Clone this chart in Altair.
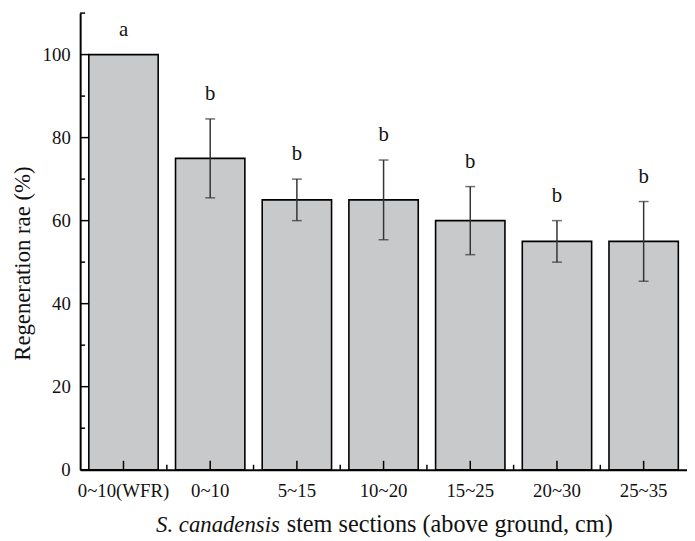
import altair as alt
import pandas as pd

categories = ["0~10(WFR)", "0~10", "5~15", "10~20", "15~25", "20~30", "25~35"]
means = [100, 75, 65, 65, 60, 55, 55]
errors = [0, 9.5, 5, 9.6, 8.2, 5, 9.6]
letters = ["a", "b", "b", "b", "b", "b", "b"]

y_major = [0, 20, 40, 60, 80, 100]
y_minor = [10, 30, 50, 70, 90, 110]

FONT = "Liberation Serif"
W, H = 614, 462

df = pd.DataFrame({"cat": categories, "mean": means, "err": errors, "letter": letters})
df["lo"] = df["mean"] - df["err"]
df["hi"] = df["mean"] + df["err"]
df["lab"] = df["hi"] + 4.5
err_df = df[df["err"] > 0]

xscale = alt.Scale(domain=categories, paddingInner=0, paddingOuter=0)
yscale = alt.Scale(domain=[0, 110], nice=False)

x_enc = alt.X("cat:N", scale=xscale, sort=categories, title=None,
              axis=alt.Axis(labelAngle=0, tickSize=0, labelPadding=12, labelFont=FONT,
                            labelFontSize=19, labelColor="#111", domainColor="black",
                            domainWidth=2, grid=False))

bars = alt.Chart(df).mark_bar(width=alt.RelativeBandSize(0.8), color="#c8c9cb",
                              stroke="black", strokeWidth=1.6).encode(
    x=x_enc,
    y=alt.Y("mean:Q", scale=yscale,
            axis=alt.Axis(values=y_major, tickSize=0, labelPadding=10, labelFont=FONT,
                          labelFontSize=19, labelColor="#111", domainColor="black",
                          domainWidth=2, grid=False, title="Regeneration rae (%)",
                          titleFont=FONT, titleFontSize=23, titleFontWeight="normal",
                          titleColor="#111", titleAngle=270, titleX=-51, titleY=253,
                          titleAlign="center", titleBaseline="alphabetic")),
)

err_rule = alt.Chart(err_df).mark_rule(color="#333", strokeWidth=1.5).encode(
    x=alt.X("cat:N", scale=xscale, sort=categories),
    y=alt.Y("lo:Q", scale=yscale),
    y2="hi:Q",
)
cap_lo = alt.Chart(err_df).mark_tick(color="#333", size=10, thickness=1.5, orient="horizontal").encode(
    x=alt.X("cat:N", scale=xscale, sort=categories),
    y=alt.Y("lo:Q", scale=yscale),
)
cap_hi = alt.Chart(err_df).mark_tick(color="#333", size=10, thickness=1.5, orient="horizontal").encode(
    x=alt.X("cat:N", scale=xscale, sort=categories),
    y=alt.Y("hi:Q", scale=yscale),
)

letter_text = alt.Chart(df).mark_text(font=FONT, fontSize=21, baseline="alphabetic",
                                      color="#111").encode(
    x=alt.X("cat:N", scale=xscale, sort=categories),
    y=alt.Y("lab:Q", scale=yscale),
    text="letter:N",
)

ymaj = alt.Chart(pd.DataFrame({"v": y_major})).mark_rule(color="black", strokeWidth=1.5).encode(
    y=alt.Y("v:Q", scale=yscale), x=alt.value(0), x2=alt.value(9))
ymin = alt.Chart(pd.DataFrame({"v": y_minor})).mark_rule(color="black", strokeWidth=1.5).encode(
    y=alt.Y("v:Q", scale=yscale), x=alt.value(0), x2=alt.value(5))

xmaj = alt.Chart(pd.DataFrame({"cat": categories})).mark_rule(color="black", strokeWidth=1.5).encode(
    x=alt.X("cat:N", scale=xscale, sort=categories, bandPosition=0.5),
    y=alt.value(H), y2=alt.value(H - 9))
xmin = alt.Chart(pd.DataFrame({"cat": categories[1:]})).mark_rule(color="black", strokeWidth=1.5).encode(
    x=alt.X("cat:N", scale=xscale, sort=categories, bandPosition=0),
    y=alt.value(H), y2=alt.value(H - 5))

title_it = alt.Chart(pd.DataFrame({"t": ["S. canadensis"]})).mark_text(
    font=FONT, fontSize=23, fontStyle="italic", align="right", baseline="alphabetic",
    color="#111").encode(text="t:N", x=alt.value(202), y=alt.value(525))
title_rest = alt.Chart(pd.DataFrame({"t": ["stem sections (above ground, cm)"]})).mark_text(
    font=FONT, fontSize=24.5, align="left", baseline="alphabetic",
    color="#111").encode(text="t:N", x=alt.value(209), y=alt.value(525))

chart = alt.layer(bars, err_rule, cap_lo, cap_hi, letter_text, ymaj, ymin, xmaj, xmin,
                  title_it, title_rest).properties(
    width=W, height=H,
    padding={"left": 73, "top": 2, "right": 0, "bottom": 69},
    autosize=alt.AutoSizeParams(type="none"),
    background="white",
).configure_view(stroke=None)

chart.save("out.html", embed_options={"renderer": "svg", "actions": False})
